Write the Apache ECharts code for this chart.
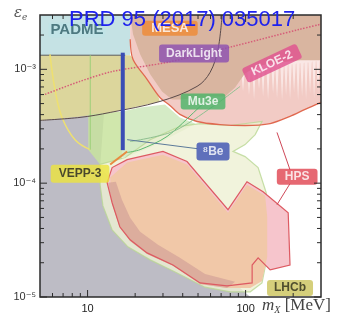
<!DOCTYPE html>
<html>
<head>
<meta charset="utf-8">
<script src="https://cdn.jsdelivr.net/npm/echarts@6/dist/echarts.min.js"></script>
<style>
  html, body { margin: 0; padding: 0; background: #ffffff; }
  #chart { width: 341px; height: 320px; }
</style>
</head>
<body>
<div id="chart"></div>
<script>
// Dark photon parameter space: coupling eps_e against mass m_X [MeV]
const xRange = [5, 300];
const yRange = [1e-5, 3e-3];
const majorX = [10, 100];
const minorX = [6, 7, 8, 9, 20, 30, 40, 50, 60, 70, 80, 90, 200];
const majorY = [1e-5, 1e-4, 1e-3];
const minorY = [2e-5, 3e-5, 4e-5, 5e-5, 6e-5, 7e-5, 8e-5, 9e-5,
                2e-4, 3e-4, 4e-4, 5e-4, 6e-4, 7e-4, 8e-4, 9e-4, 2e-3];

// excluded / projected regions, each a closed contour of [m_X, eps]
const beamDump = [[5,1e-5],[5,3.7e-4],[8.96,3.94e-4],[12.7,4.09e-4],[12.0,1.37e-4],
  [14.3,1.07e-4],[16.0,7.16e-5],[18.0,4.97e-5],[21.5,3.74e-5],[27.9,2.87e-5],[37.3,2.3e-5],
  [51.5,1.8e-5],[71,1.47e-5],[92.3,1.2e-5],[107,1e-5]];
const padmeReach = [[5,3e-3],[18.6,3e-3],[18.6,1.33e-3],[5,1.33e-3]];
const padmeEdge = [[5,1.33e-3],[17.3,1.33e-3]];
const veppReach = [[5,1.33e-3],[18.6,1.33e-3],[20.9,1.11e-3],[23.8,8.17e-4],[27.9,5.9e-4],
  [28.7,5.22e-4],[13.9,4.18e-4],[8.96,3.86e-4],[5,3.56e-4]];
const upperBound = [[18.6,1.84e-3],[19.4,1.22e-3],[23.8,8.17e-4],[28.7,5.66e-4],[33.2,4.82e-4],
  [38.4,4.02e-4],[49.3,3.48e-4],[68.9,3.27e-4],[99.3,3.21e-4],[143,3.34e-4],[191,3.86e-4],
  [238,4.45e-4],[300,5.12e-4]];
const upperEdge = [[300,1.2e-3],[221,1.2e-3],[165,1.15e-3],[123,1.08e-3],[99.3,9.23e-4],
  [85.8,6.94e-4],[74.1,5.78e-4],[59.6,5.78e-4],[47.9,5.66e-4],[39.6,5.44e-4],[34.2,5.44e-4],
  [29.6,6.4e-4],[24.9,9.04e-4],[21.5,1.355e-3],[19.4,2.03e-3],[18.6,3e-3]];
// spiky KLOE limit: lower edge, low to high mass
const kloeSpikes = [[93.9,9.6e-4],[96.3,6.4e-4],[98.7,9.6e-4],[102.5,9.6e-4],[105.1,5.9e-4],
  [107.7,9.6e-4],[110.3,9.6e-4],[113.1,5.44e-4],[115.9,9.6e-4],[118.6,1e-3],[121.6,6.67e-4],
  [124.6,1e-3],[125.9,1e-3],[129,5.78e-4],[132.2,1e-3],[135.3,1e-3],[138.7,5.44e-4],[142.2,1e-3],
  [145.6,1.04e-3],[149.2,6.14e-4],[152.9,1.04e-3],[154.2,1.04e-3],[158.1,5.55e-4],[162,1.04e-3],
  [166,1.08e-3],[170.1,5.33e-4],[174.4,1.08e-3],[175.9,1.08e-3],[180.3,5.9e-4],[184.8,1.08e-3],
  [186.4,1.11e-3],[191.1,5.44e-4],[195.9,1.11e-3],[197.7,1.11e-3],[202.6,6.27e-4],[207.7,1.11e-3],
  [209.6,1.13e-3],[214.8,5.33e-4],[220.2,1.13e-3],[222.1,1.13e-3],[227.7,5.78e-4],[233.4,1.13e-3],
  [235.4,1.15e-3],[241.3,5.44e-4],[247.3,1.15e-3],[249.6,1.15e-3],[255.8,6.14e-4],[262.2,1.15e-3],
  [264.6,1.175e-3],[271.2,5.55e-4],[278,1.175e-3],[280.4,1.175e-3],[287.4,6.27e-4],[294.6,1.175e-3],
  [300,1.175e-3],[300,1.3e-3],[93.9,1.3e-3]];
const limeReach = [[10.1,4.02e-4],[16.5,4.27e-4],[16.5,1.61e-4],[12.0,1.46e-4],[10.1,1.97e-4]];
const mu3eReach = [[16.5,4.27e-4],[21.5,4.62e-4],[30.9,4.92e-4],[38.4,3.78e-4],[47.9,3.34e-4],
  [41.4,2.96e-4],[35.8,2.67e-4],[24.9,2.06e-4],[18.6,1.75e-4],[16.5,1.68e-4]];
const paleReach = [[12.0,1.46e-4],[17.3,1.68e-4],[24.9,2.41e-4],[38.4,3.15e-4],[51.5,3.34e-4],
  [79.8,3.21e-4],[127,3.48e-4],[115,2.67e-4],[99.3,2.18e-4],[83.3,1.9e-4],[99.3,1.71e-4],
  [120,1.37e-4],[135,8.24e-5],[139,5.07e-5],[137,2.25e-5],[127,1.33e-5],[107,1.11e-5],
  [79.8,1.11e-5],[55.4,1.22e-5],[35.8,1.66e-5],[24.9,2.12e-5],[18.0,2.76e-5],[14.3,3.89e-5],
  [12.5,6.34e-5],[12.0,9.7e-5]];
const hpsReach = [[13.3,1.01e-4],[14.3,1.37e-4],[17.8,1.61e-4],[30.0,1.9e-4],[42.6,1.55e-4],
  [77.4,5.85e-5],[102,1.03e-4],[129,8.4e-5],[186,5.49e-5],[191,1.91e-5],[143,1.73e-5],
  [120,2.21e-5],[110,1.91e-5],[110,1.33e-5],[76.3,1.25e-5],[51.5,1.33e-5],[34.7,1.91e-5],
  [23.8,2.44e-5],[18.6,3.18e-5],[16.0,4.14e-5],[14.3,6.73e-5]];
const lhcbReach = [[13.9,1.12e-4],[17.8,1.52e-4],[30.0,1.78e-4],[42.6,1.46e-4],[77.4,5.49e-5],
  [102,9.7e-5],[133,7.77e-5],[137,5.07e-5],[137,2.25e-5],[127,1.38e-5],[107,1.2e-5],
  [76.3,1.2e-5],[51.5,1.3e-5],[34.7,1.88e-5],[23.8,2.39e-5],[18.6,3.11e-5],[16.0,4.06e-5],
  [14.3,6.59e-5]];
const overlapBand = [[13.5,1.01e-4],[14.3,6.59e-5],[16.0,4.06e-5],[18.6,3.11e-5],[23.8,2.39e-5],
  [34.7,1.88e-5],[51.5,1.3e-5],[76.3,1.2e-5],[85.8,1.36e-5],[55.4,1.59e-5],[38.4,2.21e-5],
  [27.9,2.87e-5],[21.5,3.74e-5],[18.6,4.97e-5],[16.5,7.16e-5],[15.1,1.03e-4]];

// limit curves and pointers
const g2Band = [[5,3.56e-4],[8.96,3.78e-4],[13.9,4.18e-4],[28.7,5.22e-4],[49.3,7.08e-4],
  [59.6,9.4e-4],[66.9,1.5e-3],[71,3e-3]];
const kloe2Reach = [[5.38,6.02e-4],[8.96,7.84e-4],[14.5,9.6e-4],[31.8,1.15e-3],[83.3,1.59e-3],
  [221,2.25e-3],[300,2.49e-3]];
const be8Mass = [[16.7,1.4e-3],[16.7,1.95e-4]];
const be8Pointer = [[49.3,2.01e-4],[17.8,2.41e-4]];
const mu3eEdgeA = [[17.8,1.86e-4],[21.5,1.97e-4],[31.8,2.57e-4],[49.3,4.45e-4],[53.8,5.01e-4]];
const mu3eEdgeB = [[18.6,2.32e-4],[34.7,2.84e-4],[62.2,4.72e-4],[92.3,7.08e-4]];
const hpsPointerA = [[158,2.79e-4],[191,1.31e-4]];
const hpsPointerB = [[191,9.9e-5],[158,6.47e-5]];
const veppEdge = [[5.78,1.355e-3],[6.22,6.67e-4],[6.89,3.78e-4],[8.33,2.41e-4],[10.4,1.97e-4]];
const limeEdge = [[10.4,1.33e-3],[10.4,1.97e-4]];
const veppPointer = [[13.9,1.46e-4],[17.8,1.9e-4]];

// experiment tags
const tagNames = ['PADME', 'MESA', 'DarkLight', 'KLOE-2', 'Mu3e', '⁸Be', 'VEPP-3', 'HPS', 'LHCb'];
const tagAnchors = [[8.57,2.21e-3],[33.2,2.3e-3],[47.2,1.38e-3],[147,1.13e-3],[53.8,5.22e-4],
  [62.2,1.9e-4],[8.96,1.21e-4],[212,1.14e-4],[191,1.2e-5]];

const tagStyles = {
  'PADME':     { bg: 'rgba(190,228,232,0.7)', fg: '#2f5e66', size: 15, pad: [0, 2] },
  'MESA':      { bg: '#ef8a33', fg: '#ffffff', size: 13, pad: [1, 9] },
  'DarkLight': { bg: '#8b4fb2', fg: '#ffffff', size: 12, pad: [3, 7] },
  'KLOE-2':    { bg: '#e0508f', fg: '#ffffff', size: 12, pad: [2, 8], rotate: 25 },
  'Mu3e':      { bg: '#47b466', fg: '#ffffff', size: 12, pad: [2, 7] },
  '⁸Be':       { bg: '#3b4fb3', fg: '#ffffff', size: 12, pad: [3, 6] },
  'VEPP-3':    { bg: '#ece43c', fg: '#222222', size: 12, pad: [3, 8] },
  'HPS':       { bg: '#e0424f', fg: '#ffffff', size: 12, pad: [2, 8] },
  'LHCb':      { bg: '#cbc35a', fg: '#2d2d1a', size: 12, pad: [2, 7] }
};

function region(points, fill, opts) {
  opts = opts || {};
  return {
    type: 'custom', coordinateSystem: 'cartesian2d', silent: true, clip: true,
    z: opts.z || 2, animation: false,
    data: [points[0]],
    renderItem: function (params, api) {
      return {
        type: 'polygon',
        shape: { points: points.map(function (p) { return api.coord(p); }), smooth: opts.smooth || 0 },
        style: {
          fill: fill,
          opacity: opts.opacity == null ? 1 : opts.opacity,
          stroke: opts.stroke || null,
          lineWidth: opts.lineWidth || 0
        }
      };
    }
  };
}

function curve(points, color, width, kind, smooth) {
  return {
    type: 'line', data: points, symbol: 'none', showSymbol: false, silent: true,
    smooth: smooth || 0, clip: true, z: 3, animation: false,
    lineStyle: { color: color, width: width, type: kind || 'solid' }
  };
}

const series = [
  region(beamDump, '#bdbcc5'),
  region(padmeReach, '#c5e2e4'),
  region(veppReach, '#dcd69c'),
  region([[18.6,3e-3],[300,3e-3]].concat(upperBound.slice().reverse()), '#f2cbc5'),
  region(kloeSpikes, '#fbeae8', { opacity: 0.9 }),
  region([[18.6,3e-3],[300,3e-3]].concat(upperEdge), '#d9b5a0'),
  region(limeReach, '#c8e39e', { opacity: 0.85 }),
  region(mu3eReach, '#d0e9c0', { opacity: 0.9 }),
  region(paleReach, '#eef0d3', { opacity: 0.8, stroke: '#b9d794', lineWidth: 1.2 }),
  region(hpsReach, '#f6c5cc'),
  region(lhcbReach, '#f1c8a8'),
  region(overlapBand, '#d9aa9b', { opacity: 0.9 }),
  region(hpsReach, 'transparent', { stroke: '#dd5a62', lineWidth: 1.2, z: 3 }),
  curve(padmeEdge, '#5a5a5a', 1),
  curve(veppEdge, '#eee070', 1.5, 'solid', 0.4),
  curve(limeEdge, '#9ccf78', 1),
  curve(upperBound, '#e0684f', 1.3, 'solid', 0.3),
  curve(g2Band, '#5b4a4a', 1, 'solid', 0.35),
  curve(kloe2Reach, '#d65c78', 1.5, 'dotted', 0.3),
  curve(mu3eEdgeA, '#5cb870', 1, 'solid', 0.3),
  curve(mu3eEdgeB, '#8fc090', 1, 'solid', 0.3),
  curve(be8Pointer, '#5c7a9a', 1),
  curve(hpsPointerA, '#cf4858', 1),
  curve(hpsPointerB, '#cf4858', 1),
  curve(veppPointer, '#e88a40', 2),
  curve(be8Mass, '#3a4db5', 4),
  {
    type: 'scatter', symbolSize: 0, silent: true, z: 4, animation: false,
    data: tagNames.map(function (name, i) {
      const s = tagStyles[name];
      return {
        value: tagAnchors[i], name: name,
        label: {
          show: true, position: 'inside', formatter: name,
          backgroundColor: s.bg, color: s.fg, padding: s.pad, borderRadius: 3,
          fontSize: s.size, fontWeight: 'bold', rotate: s.rotate || 0,
          fontFamily: 'Liberation Sans, Arial, sans-serif'
        }
      };
    })
  },
  {
    // frame with inward ticks on all four sides
    type: 'custom', coordinateSystem: 'cartesian2d', silent: true, z: 5, clip: false,
    animation: false, data: [[xRange[0], yRange[0]]],
    renderItem: function (params, api) {
      const r = params.coordSys;
      const left = r.x, right = r.x + r.width, top = r.y, bottom = r.y + r.height;
      const out = [];
      const seg = function (x1, y1, x2, y2) {
        out.push({ type: 'line', shape: { x1: x1, y1: y1, x2: x2, y2: y2 },
                   style: { stroke: '#2b2b2b', lineWidth: 1 } });
      };
      const xt = function (v, len) {
        const p = api.coord([v, yRange[0]])[0];
        seg(p, bottom, p, bottom - len); seg(p, top, p, top + len);
      };
      const yt = function (v, len) {
        const p = api.coord([xRange[0], v])[1];
        seg(left, p, left + len, p); seg(right, p, right - len, p);
      };
      majorX.forEach(function (v) { xt(v, 7); });
      minorX.forEach(function (v) { xt(v, 4); });
      majorY.forEach(function (v) { yt(v, 7); });
      minorY.forEach(function (v) { yt(v, 4); });
      out.push({ type: 'rect', shape: { x: left, y: top, width: r.width, height: r.height },
                 style: { fill: 'transparent', stroke: '#2b2b2b', lineWidth: 1.5 } });
      return { type: 'group', children: out };
    }
  }
];

const supDigits = { '-': '⁻', '0': '⁰', '1': '¹', '2': '²', '3': '³', '4': '⁴',
                    '5': '⁵', '6': '⁶', '7': '⁷', '8': '⁸', '9': '⁹' };

const chart = echarts.init(document.getElementById('chart'), null, { renderer: 'canvas' });
chart.setOption({
  animation: false,
  backgroundColor: '#ffffff',
  title: {
    text: 'PRD 95 (2017) 035017', left: 64, top: 4,
    textStyle: { color: '#1e22ee', fontSize: 22, fontWeight: 'normal',
                 fontFamily: 'Liberation Sans, Arial, sans-serif' }
  },
  grid: { left: 40, right: 20, top: 15, bottom: 23, show: true, backgroundColor: '#ffffff', borderWidth: 0 },
  xAxis: {
    type: 'log', logBase: 10, min: xRange[0], max: xRange[1],
    axisLine: { show: false }, axisTick: { show: false }, splitLine: { show: false },
    axisLabel: {
      showMinLabel: false, showMaxLabel: false, margin: 6, color: '#222', fontSize: 11,
      fontFamily: 'Liberation Sans, Arial, sans-serif',
      formatter: function (v) { return String(Math.round(v)); }
    }
  },
  yAxis: {
    type: 'log', logBase: 10, min: yRange[0], max: yRange[1],
    axisLine: { show: false }, axisTick: { show: false }, splitLine: { show: false },
    axisLabel: {
      showMaxLabel: false, margin: 4, color: '#333', fontSize: 11,
      fontFamily: 'Liberation Sans, DejaVu Sans, sans-serif',
      formatter: function (v) {
        const e = String(Math.round(Math.log10(v)));
        return '10' + e.split('').map(function (c) { return supDigits[c]; }).join('');
      }
    }
  },
  graphic: [
    {
      type: 'text', left: 14, top: 6, z: 10,
      style: {
        text: '{a|ε}{b|e}',
        rich: {
          a: { fontFamily: 'DejaVu Serif, serif', fontStyle: 'italic', fontSize: 15, fill: '#555' },
          b: { fontFamily: 'DejaVu Serif, serif', fontStyle: 'italic', fontSize: 9, fill: '#555', padding: [8, 0, 0, 0] }
        }
      }
    },
    {
      type: 'text', left: 262, top: 297, z: 10,
      style: {
        text: '{a|m}{b|X}{c| [MeV]}',
        rich: {
          a: { fontFamily: 'Liberation Serif, serif', fontStyle: 'italic', fontSize: 17, fill: '#444' },
          b: { fontFamily: 'Liberation Serif, serif', fontStyle: 'italic', fontSize: 10, fill: '#444', padding: [9, 0, 0, 0] },
          c: { fontFamily: 'Liberation Serif, serif', fontSize: 17, fill: '#444' }
        }
      }
    }
  ],
  series: series
});
</script>
</body>
</html>
